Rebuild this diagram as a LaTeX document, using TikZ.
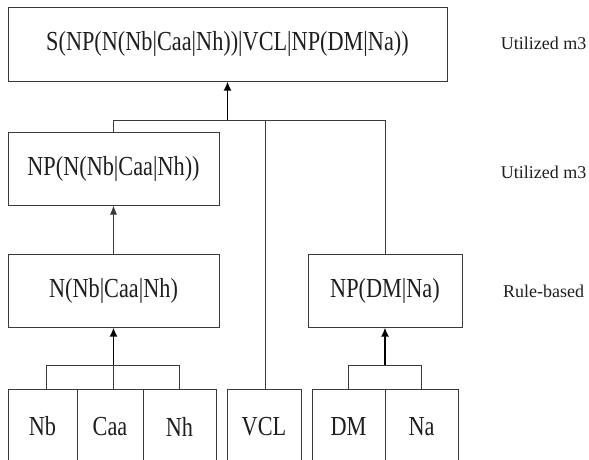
\documentclass[tikz,border=0pt]{standalone}
\usepackage{fontspec}
\setmainfont{Liberation Serif}
\usetikzlibrary{arrows.meta}
\definecolor{linegray}{HTML}{3A3A3A}
\definecolor{txt}{HTML}{1E1E1E}
\newcommand{\boxtxt}[1]{\scalebox{0.81}[1]{\fontsize{27.5}{27.5}\selectfont #1}}
\tikzset{
  treebox/.style={draw=linegray, line width=1pt, rectangle, inner sep=0pt, text=txt},
  conn/.style={draw=linegray, line width=0.9pt},
  uparrow/.style={draw=black, line width=1.8pt, -{Latex[length=9pt,width=8pt]}},
  thinarrow/.style={draw=linegray, line width=0.9pt, -{Latex[length=9pt,width=7pt]}},
  sidelabel/.style={text=txt, font=\fontsize{18}{18}\selectfont, inner sep=0pt, anchor=base}
}
\begin{document}
\begin{tikzpicture}[x=1pt,y=1pt]
\useasboundingbox (0,0) rectangle (589,-459);
% boxes
\node[treebox, minimum width=439, minimum height=74] (top) at (227.5,-44) {\boxtxt{S(NP(N(Nb|Caa|Nh))|VCL|NP(DM|Na))}};
\node[treebox, minimum width=211, minimum height=73] (np1) at (113.5,-168.5) {\boxtxt{NP(N(Nb|Caa|Nh))}};
\node[treebox, minimum width=211, minimum height=73] (n1) at (113.5,-290.5) {\boxtxt{N(Nb|Caa|Nh)}};
\node[treebox, minimum width=154, minimum height=73] (npdm) at (385,-290.5) {\boxtxt{NP(DM|Na)}};
\node[treebox, minimum width=69, minimum height=75] (nb) at (42.5,-426.5) {\boxtxt{Nb}};
\node[treebox, minimum width=66, minimum height=75] (caa) at (110,-426.5) {\boxtxt{Caa}};
\node[treebox, minimum width=73, minimum height=75] (nh) at (179.5,-426.5) {\boxtxt{Nh}};
\node[treebox, minimum width=74, minimum height=75] (vcl) at (264,-426.5) {\boxtxt{VCL}};
\node[treebox, minimum width=73, minimum height=75] (dm) at (348.5,-426.5) {\boxtxt{DM}};
\node[treebox, minimum width=73, minimum height=75] (na) at (421.5,-426.5) {\boxtxt{Na}};
% side labels
\node[sidelabel] (l1) at (543.5,-49) {Utilized m3};
\node[sidelabel] (l2) at (543.5,-178) {Utilized m3};
\node[sidelabel] (l3) at (543.5,-297) {Rule-based};
% junctions
\coordinate (j1) at (227.5,-120);
\coordinate (j2) at (113.5,-365);
\coordinate (j3) at (385,-365);
% top level connectors
\draw[conn] (np1.north) -- (np1.north |- j1) -- (npdm.north |- j1) -- (npdm.north);
\draw[conn] (265,-389) -- (265,-120);
\draw[uparrow] (j1) -- (top.south);
% NP -> N
\draw[thinarrow] (n1.north) -- (np1.south);
% N group
\draw[conn] (46,-389) -- (46,-365) -- (179.5,-365) -- (nh.north);
\draw[conn] (113.5,-389) -- (j2);
\draw[uparrow] (j2) -- (n1.south);
% NP(DM|Na) group
\draw[conn] (dm.north) -- (dm.north |- j3) -- (na.north |- j3) -- (na.north);
\draw[uparrow] (j3) -- (npdm.south);
\end{tikzpicture}
\end{document}
